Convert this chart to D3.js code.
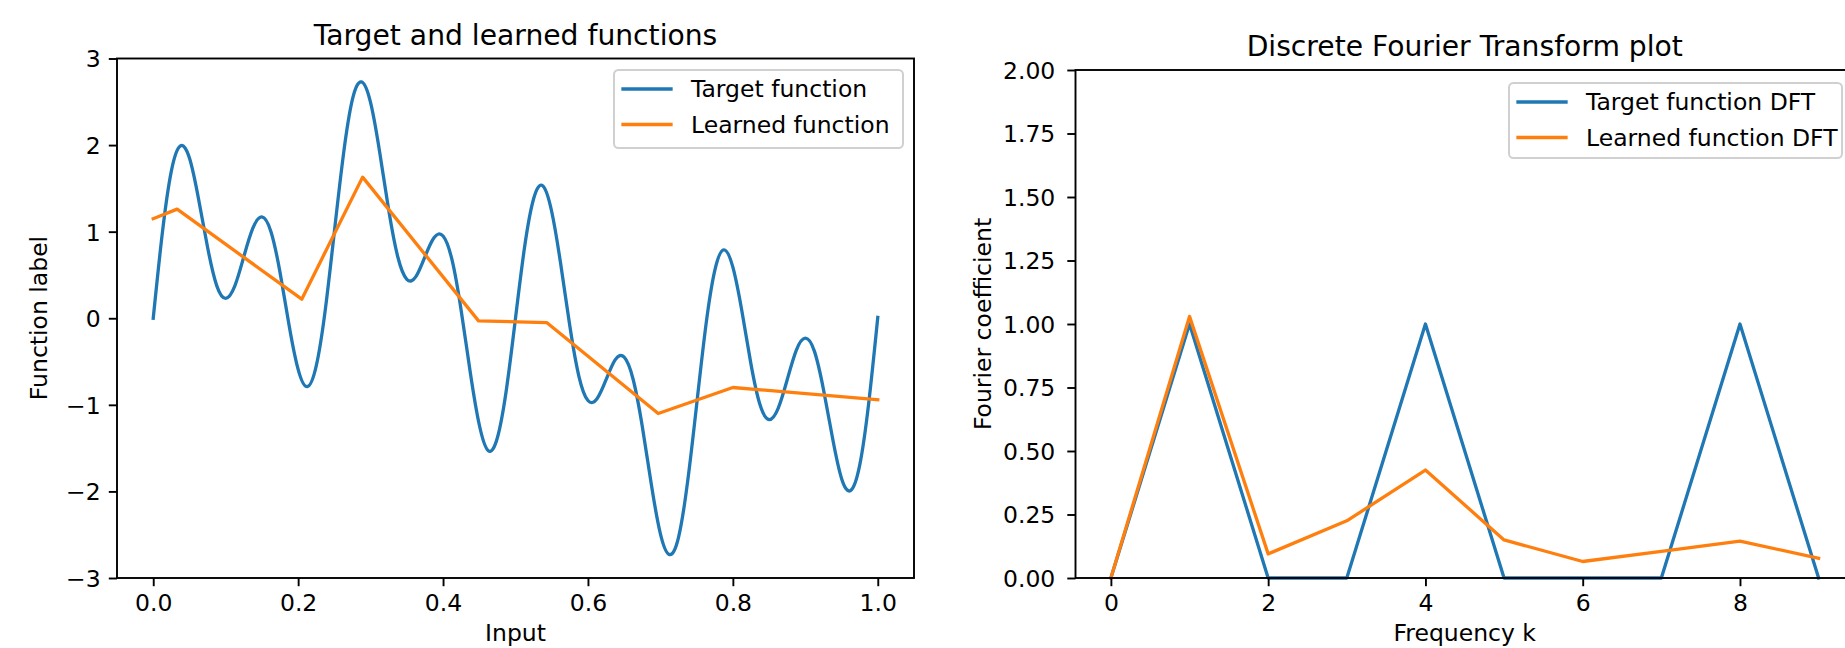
<!DOCTYPE html>
<html>
<head>
<meta charset="utf-8">
<script src="https://cdn.jsdelivr.net/npm/d3@7"></script>
<style>
  body { margin: 0; background: #fff; }
  text { font-family: "DejaVu Sans", sans-serif; fill: #000; }
</style>
</head>
<body>
<svg class="chart"></svg>
<script>
// left panel: target function (every 0.0125)
var targetX = [0, 0.0125, 0.025, 0.0375, 0.05, 0.0625, 0.075, 0.0875, 0.1, 0.1125,
  0.125, 0.1375, 0.15, 0.1625, 0.175, 0.1875, 0.2, 0.2125, 0.225, 0.2375,
  0.25, 0.2625, 0.275, 0.2875, 0.3, 0.3125, 0.325, 0.3375, 0.35, 0.3625,
  0.375, 0.3875, 0.4, 0.4125, 0.425, 0.4375, 0.45, 0.4625, 0.475, 0.4875,
  0.5, 0.5125, 0.525, 0.5375, 0.55, 0.5625, 0.575, 0.5875, 0.6, 0.6125,
  0.625, 0.6375, 0.65, 0.6625, 0.675, 0.6875, 0.7, 0.7125, 0.725, 0.7375,
  0.75, 0.7625, 0.775, 0.7875, 0.8, 0.8125, 0.825, 0.8375, 0.85, 0.8625,
  0.875, 0.8875, 0.9, 0.9125, 0.925, 0.9375, 0.95, 0.9625, 0.975, 0.9875, 1.0];
var targetY = [0, 0.98, 1.70, 1.99, 1.85, 1.38, 0.82, 0.38, 0.23, 0.37,
  0.71, 1.04, 1.17, 1.00, 0.53, -0.08, -0.59, -0.79, -0.55, 0.10,
  1.00, 1.89, 2.53, 2.73, 2.49, 1.92, 1.25, 0.71, 0.45, 0.48,
  0.71, 0.93, 0.95, 0.67, 0.09, -0.62, -1.23, -1.53, -1.38, -0.82,
  0, 0.82, 1.38, 1.53, 1.23, 0.62, -0.09, -0.67, -0.95, -0.93,
  -0.71, -0.48, -0.45, -0.71, -1.25, -1.92, -2.49, -2.73, -2.53, -1.89,
  -1.00, -0.10, 0.55, 0.79, 0.59, 0.08, -0.53, -1.00, -1.17, -1.04,
  -0.71, -0.37, -0.23, -0.38, -0.82, -1.38, -1.85, -1.99, -1.70, -0.98, 0.01];

// learned function (piecewise linear)
var learnedX = [0, 0.033, 0.205, 0.289, 0.449, 0.543, 0.697, 0.8, 1.0];
var learnedY = [1.15, 1.26, 0.22, 1.63, -0.03, -0.05, -1.10, -0.80, -0.94];

// right panel: DFT magnitudes
var freqK = [0, 1, 2, 3, 4, 5, 6, 7, 8, 9];
var targetDFT = [0, 1, 0, 0, 1, 0, 0, 0, 1, 0];
var learnedDFT = [0, 1.03, 0.095, 0.225, 0.425, 0.15, 0.065, 0.105, 0.145, 0.078];

// ticks
var leftXTicks = [0, 0.2, 0.4, 0.6, 0.8, 1.0];
var leftYTicks = [-3, -2, -1, 0, 1, 2, 3];
var rightXTicks = [0, 2, 4, 6, 8];
var rightYTicks = [0, 0.25, 0.5, 0.75, 1.0, 1.25, 1.5, 1.75, 2.0];

var blue = "#1f77b4", orange = "#ff7f0e";
var fs = 23.5, lw = 3.3, spineW = 1.9, tickLen = 8.2;

var chart = d3.select('.chart').attr("width", 1845).attr("height", 648);
chart.append("rect").attr("width", 1845).attr("height", 648).attr("fill", "#fff");

var xL = d3.scaleLinear().domain([-0.05, 1.05]).range([117, 914]);
var yL = d3.scaleLinear().domain([-3, 3]).range([578, 58.5]);
var xR = d3.scaleLinear().domain([-0.45, 9.45]).range([1075.5, 1854]);
var yR = d3.scaleLinear().domain([0, 2]).range([578, 70]);

function styleAxis(g) {
  g.select(".domain").remove();
  g.selectAll(".tick line").attr("stroke", "#000").attr("stroke-width", spineW);
  g.selectAll(".tick text").attr("font-size", fs).attr("font-family", "DejaVu Sans").attr("fill", "#000");
}

function drawLine(xs, ys, x, y, color, curve) {
  var line = d3.line()
    .x(function(d, i) { return x(xs[i]); })
    .y(function(d) { return y(d); })
    .curve(curve || d3.curveLinear);
  chart.append("path")
    .datum(ys)
    .attr("d", line)
    .attr("fill", "none")
    .attr("stroke", color)
    .attr("stroke-width", lw)
    .attr("stroke-linejoin", "round")
    .attr("stroke-linecap", "square");
}

function drawFrame(x, y) {
  var x0 = x.range()[0], x1 = x.range()[1], y0 = y.range()[1], y1 = y.range()[0];
  chart.append("rect")
    .attr("x", x0).attr("y", y0).attr("width", x1 - x0).attr("height", y1 - y0)
    .attr("fill", "none").attr("stroke", "#000").attr("stroke-width", spineW);
}

function drawLegend(left, top, w, h, labels) {
  var g = chart.append("g").attr("transform", "translate(" + left + "," + top + ")");
  g.append("rect").attr("width", w).attr("height", h).attr("rx", 4.5)
    .attr("fill", "#fff").attr("fill-opacity", 0.8)
    .attr("stroke", "#d0d0d0").attr("stroke-width", 2);
  labels.forEach(function(l, i) {
    var cy = 19 + i * 35.5;
    g.append("line").attr("x1", 9).attr("x2", 57).attr("y1", cy).attr("y2", cy)
      .attr("stroke", l.color).attr("stroke-width", lw).attr("stroke-linecap", "square");
    g.append("text").attr("x", 77).attr("y", cy).attr("dy", "0.36em")
      .attr("font-size", fs).text(l.name);
  });
}

//Left panel
drawLine(targetX, targetY, xL, yL, blue, d3.curveNatural);
drawLine(learnedX, learnedY, xL, yL, orange);
drawFrame(xL, yL);

chart.append("g").attr("transform", "translate(0,578)")
  .call(d3.axisBottom(xL).tickValues(leftXTicks).tickFormat(d3.format(".1f")).tickSize(tickLen).tickPadding(tickLen))
  .call(styleAxis);
chart.append("g").attr("transform", "translate(117,0)")
  .call(d3.axisLeft(yL).tickValues(leftYTicks).tickFormat(d3.format("d")).tickSize(tickLen).tickPadding(tickLen))
  .call(styleAxis)
  .selectAll(".tick text").attr("dy", "0.36em");

chart.append("text").attr("x", 515.5).attr("y", 44.5).attr("text-anchor", "middle")
  .attr("font-size", 28.2).text("Target and learned functions");
chart.append("text").attr("x", 515.5).attr("y", 641).attr("text-anchor", "middle")
  .attr("font-size", fs).text("Input");
chart.append("text").attr("transform", "translate(47," + 318 + ") rotate(-90)")
  .attr("text-anchor", "middle").attr("font-size", fs).text("Function label");

drawLegend(614, 70, 289, 78, [{name: "Target function", color: blue}, {name: "Learned function", color: orange}]);

//Right panel
drawLine(freqK, targetDFT, xR, yR, blue);
drawLine(freqK, learnedDFT, xR, yR, orange);
drawFrame(xR, yR);

chart.append("g").attr("transform", "translate(0,578)")
  .call(d3.axisBottom(xR).tickValues(rightXTicks).tickFormat(d3.format("d")).tickSize(tickLen).tickPadding(tickLen))
  .call(styleAxis);
chart.append("g").attr("transform", "translate(1075.5,0)")
  .call(d3.axisLeft(yR).tickValues(rightYTicks).tickFormat(d3.format(".2f")).tickSize(tickLen).tickPadding(12))
  .call(styleAxis)
  .selectAll(".tick text").attr("dy", "0.36em");

chart.append("text").attr("x", 1464.75).attr("y", 56).attr("text-anchor", "middle")
  .attr("font-size", 28.2).text("Discrete Fourier Transform plot");
chart.append("text").attr("x", 1464.75).attr("y", 641).attr("text-anchor", "middle")
  .attr("font-size", fs).text("Frequency k");
chart.append("text").attr("transform", "translate(991," + 324 + ") rotate(-90)")
  .attr("text-anchor", "middle").attr("font-size", fs).text("Fourier coefficient");

drawLegend(1509, 83, 333, 75, [{name: "Target function DFT", color: blue}, {name: "Learned function DFT", color: orange}]);
</script>
</body>
</html>
